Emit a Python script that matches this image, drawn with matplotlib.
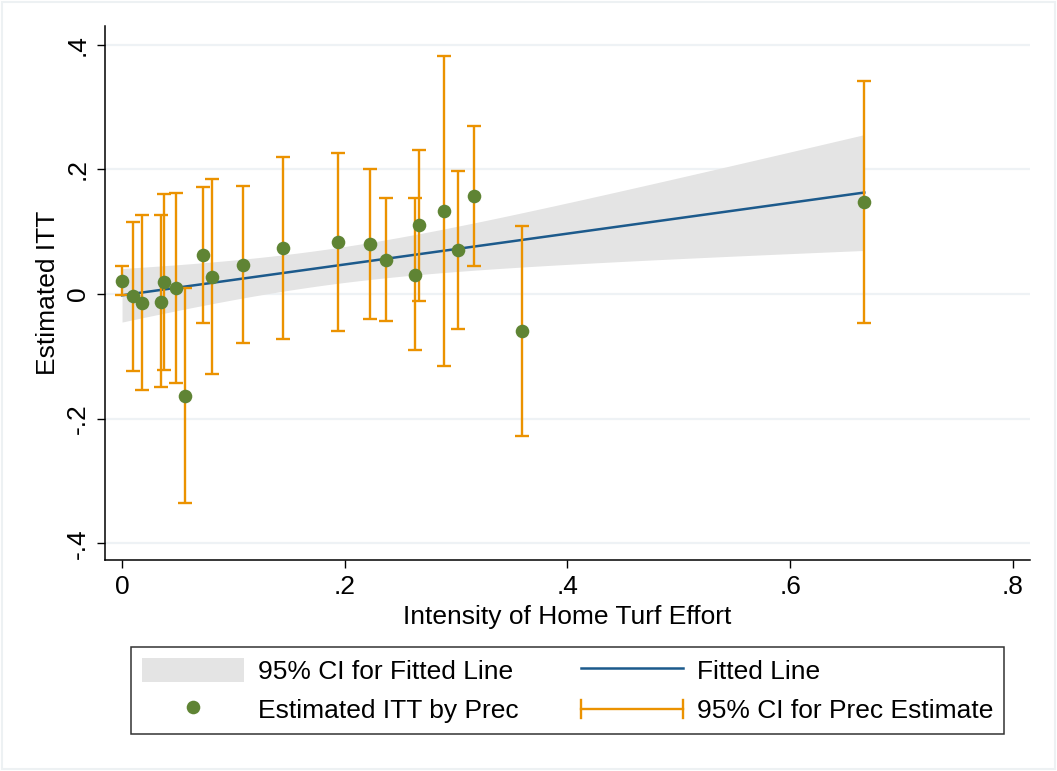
import numpy as np
import matplotlib
matplotlib.use("Agg")
import matplotlib.pyplot as plt
from matplotlib.patches import Rectangle
from matplotlib.lines import Line2D
from matplotlib.legend_handler import HandlerBase

plt.rcParams['font.family'] = ['Liberation Sans', 'DejaVu Sans']

# precinct estimates
intensity = [0.0, 0.0096, 0.0182, 0.035, 0.0374, 0.0485, 0.0563, 0.073, 0.0808, 0.1084,
             0.1449, 0.194, 0.2227, 0.2368, 0.2631, 0.2665, 0.2894, 0.3015, 0.3164, 0.3595, 0.6666]
itt = [0.0217, -0.0035, -0.0141, -0.012, 0.019, 0.010, -0.163, 0.063, 0.0281, 0.0474,
       0.0742, 0.084, 0.080, 0.0554, 0.0313, 0.1105, 0.133, 0.0704, 0.1578, -0.0598, 0.1481]
ci_hi = [0.0447, 0.1153, 0.1272, 0.1266, 0.1598, 0.1614, 0.010, 0.1722, 0.185, 0.1727,
         0.2204, 0.2268, 0.200, 0.1545, 0.1534, 0.2305, 0.382, 0.1973, 0.2691, 0.110, 0.3425]
ci_lo = [-0.0013, -0.1234, -0.1534, -0.1497, -0.1218, -0.1427, -0.3345, -0.0458, -0.1288, -0.0784,
         -0.0715, -0.0598, -0.0394, -0.0426, -0.0896, -0.0104, -0.1149, -0.0565, 0.0458, -0.2284, -0.0458]

x_ticks = [0, 0.2, 0.4, 0.6, 0.8]
x_labels = ['0', '.2', '.4', '.6', '.8']
y_ticks = [-0.4, -0.2, 0, 0.2, 0.4]
y_labels = ['-.4', '-.2', '0', '.2', '.4']

ORANGE = '#eb9200'
GREEN = '#5f8434'
BLUE = '#1c5a8c'
BAND = '#e4e4e4'
GRID = '#eef2f5'
FS = 19

x = np.array(intensity)
y = np.array(itt)

# linear fit with 95% CI of the mean prediction (like lfitci)
n = len(x)
slope, intercept = np.polyfit(x, y, 1)
resid = y - (intercept + slope * x)
s = np.sqrt(np.sum(resid ** 2) / (n - 2))
t_crit = 2.093  # t(0.975, 19)
xs = np.linspace(x.min(), x.max(), 200)
fit = intercept + slope * xs
se = s * np.sqrt(1 / n + (xs - x.mean()) ** 2 / np.sum((x - x.mean()) ** 2))

fig = plt.figure(figsize=(10.57, 7.71), dpi=100)
W, H = 1057, 771
fig.patches.append(Rectangle((2 / W, 2 / H), 1 - 4 / W, 1 - 4 / H, transform=fig.transFigure,
                             fill=False, edgecolor='#edf1f3', linewidth=1.5))

ax = fig.add_axes([105 / W, 1 - 560 / H, (1030 - 105) / W, (560 - 26) / H])

for yt in y_ticks:
    ax.axhline(yt, color=GRID, linewidth=1.6, zorder=0)

ax.fill_between(xs, fit - t_crit * se, fit + t_crit * se, color=BAND, linewidth=0, zorder=1)
ax.plot(xs, fit, color=BLUE, linewidth=1.8, zorder=2)
ax.errorbar(x, y, yerr=[y - np.array(ci_lo), np.array(ci_hi) - y], fmt='none',
            ecolor=ORANGE, elinewidth=1.7, capsize=4.8, capthick=1.7, zorder=3)
ax.plot(x, y, 'o', color=GREEN, markersize=9.8, markeredgewidth=0, zorder=4)

ax.set_xlim(-0.0153, 0.8154)
ax.set_ylim(-0.4265, 0.43)
ax.set_xticks(x_ticks)
ax.set_xticklabels(x_labels)
ax.set_yticks(y_ticks)
ax.set_yticklabels(y_labels, rotation=90, va='center')
ax.tick_params(labelsize=FS, length=6, width=1, pad=5, colors='black')
for side in ['top', 'right']:
    ax.spines[side].set_visible(False)
for side in ['left', 'bottom']:
    ax.spines[side].set_linewidth(1.1)
ax.set_xlabel('Intensity of Home Turf Effort', fontsize=FS, labelpad=4)
ax.set_ylabel('Estimated ITT', fontsize=FS, labelpad=4)


class RcapHandler(HandlerBase):
    def create_artists(self, legend, orig_handle, xdescent, ydescent, width, height, fontsize, trans):
        yc = height / 2 - ydescent
        cap = 6.5
        arts = [Line2D([-xdescent, width - xdescent], [yc, yc]),
                Line2D([-xdescent, -xdescent], [yc - cap, yc + cap]),
                Line2D([width - xdescent, width - xdescent], [yc - cap, yc + cap])]
        for a in arts:
            a.set_color(ORANGE)
            a.set_linewidth(1.7)
            a.set_transform(trans)
        return arts


h_band = Rectangle((0, 0), 1, 1, facecolor=BAND, edgecolor='none')
h_dot = Line2D([], [], marker='o', linestyle='none', color=GREEN, markersize=9.8, markeredgewidth=0)
h_line = Line2D([], [], color=BLUE, linewidth=1.8)
h_rcap = object()

leg = fig.legend([h_band, h_dot, h_line, h_rcap],
                 ['95% CI for Fitted Line', 'Estimated ITT by Prec', 'Fitted Line', '95% CI for Prec Estimate'],
                 handler_map={h_rcap: RcapHandler()},
                 ncol=2, loc='lower left', mode='expand',
                 bbox_to_anchor=(131 / W, 1 - 734 / H, (1004 - 131) / W, (734 - 646) / H),
                 fontsize=FS, frameon=True, fancybox=False, edgecolor='black',
                 handlelength=3.86, handleheight=1.06, handletextpad=0.53, borderpad=0.42,
                 labelspacing=0.48, borderaxespad=0)
leg.get_frame().set_linewidth(1.1)

fig.savefig('out.png', dpi=100)
